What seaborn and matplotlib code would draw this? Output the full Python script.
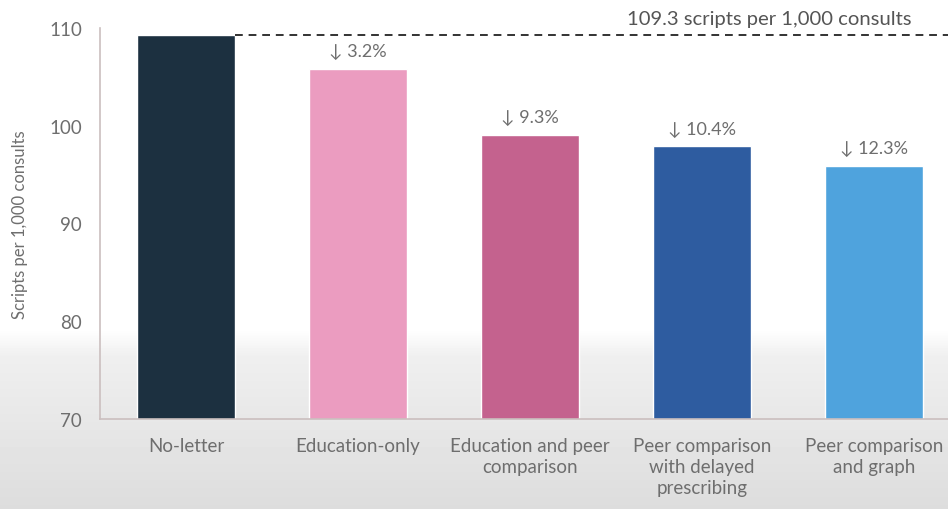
import numpy as np
import pandas as pd
import matplotlib
matplotlib.use("Agg")
import matplotlib.pyplot as plt
import seaborn as sns

categories = ["No-letter", "Education-only", "Education and peer\ncomparison",
              "Peer comparison\nwith delayed\nprescribing", "Peer comparison\nand graph"]
scripts = [109.3, 105.8, 99.1, 97.9, 95.9]
reductions = [None, "3.2%", "9.3%", "10.4%", "12.3%"]
bar_colors = ["#1c3040", "#eb9cc0", "#c4628e", "#2e5ca0", "#4fa3dd"]
yticks = [70, 80, 90, 100, 110]
baseline_label = "109.3 scripts per 1,000 consults"

sns.set_theme(style="white")
plt.rcParams["font.family"] = ["Lato", "DejaVu Sans"]
text_color = "#6e6e6e"
spine_color = "#cbbfbf"

fig = plt.figure(figsize=(9.48, 5.10), dpi=100)

# soft grey fade toward the bottom of the slide
bg = fig.add_axes([0, 0, 1, 1], zorder=-10)
h = 510
start = 330
t = np.clip((np.arange(h) - start) / (h - start), 0, 1)
grad = 1.0 - (0.05 * np.clip(t / 0.15, 0, 1) + 0.085 * t)
bg.imshow(np.repeat(grad[:, None], 4, axis=1), cmap="gray", vmin=0, vmax=1,
          aspect="auto", extent=[0, 1, 0, 1], origin="upper")
bg.axis("off")

ax = fig.add_axes([100 / 948, (510 - 420) / 510, 860 / 948, (420 - 29) / 510])
ax.patch.set_alpha(0)

df = pd.DataFrame({"group": categories, "value": scripts})
sns.barplot(data=df, x="group", y="value", hue="group", palette=bar_colors,
            order=categories, hue_order=categories, width=0.57, legend=False,
            saturation=1, ax=ax)

ax.set_ylim(70, 110)
ax.set_xlim(-0.5, len(categories) - 0.5)
ax.set_yticks(yticks)
ax.set_yticklabels([str(v) for v in yticks], color=text_color, fontsize=13.5)
ax.set_xticks(range(len(categories)))
ax.set_xticklabels(categories, color=text_color, fontsize=13.5, linespacing=1.3)
ax.tick_params(axis="y", direction="out", length=5, width=1, color=spine_color, pad=8)
ax.tick_params(axis="x", length=0, pad=13)
ax.set_xlabel("")
ax.set_ylabel("Scripts per 1,000 consults", color=text_color, fontsize=12,
              labelpad=15)

for side in ["top", "right"]:
    ax.spines[side].set_visible(False)
for side in ["left", "bottom"]:
    ax.spines[side].set_color(spine_color)
    ax.spines[side].set_linewidth(1.2)

# dashed reference at the no-letter rate
ax.plot([0.285, 4.77], [scripts[0], scripts[0]], ls=(0, (4, 3)), color="#333333",
        lw=1.4, clip_on=False)
ax.text(3.39, 111.0, baseline_label, ha="center", va="center",
        color="#555555", fontsize=14.6)

for i, (v, r) in enumerate(zip(scripts, reductions)):
    if r is None:
        continue
    ax.text(i, v + 1.0, "\u2193 " + r, ha="center", va="bottom",
            color=text_color, fontsize=13)

fig.savefig("out.png", dpi=100)
